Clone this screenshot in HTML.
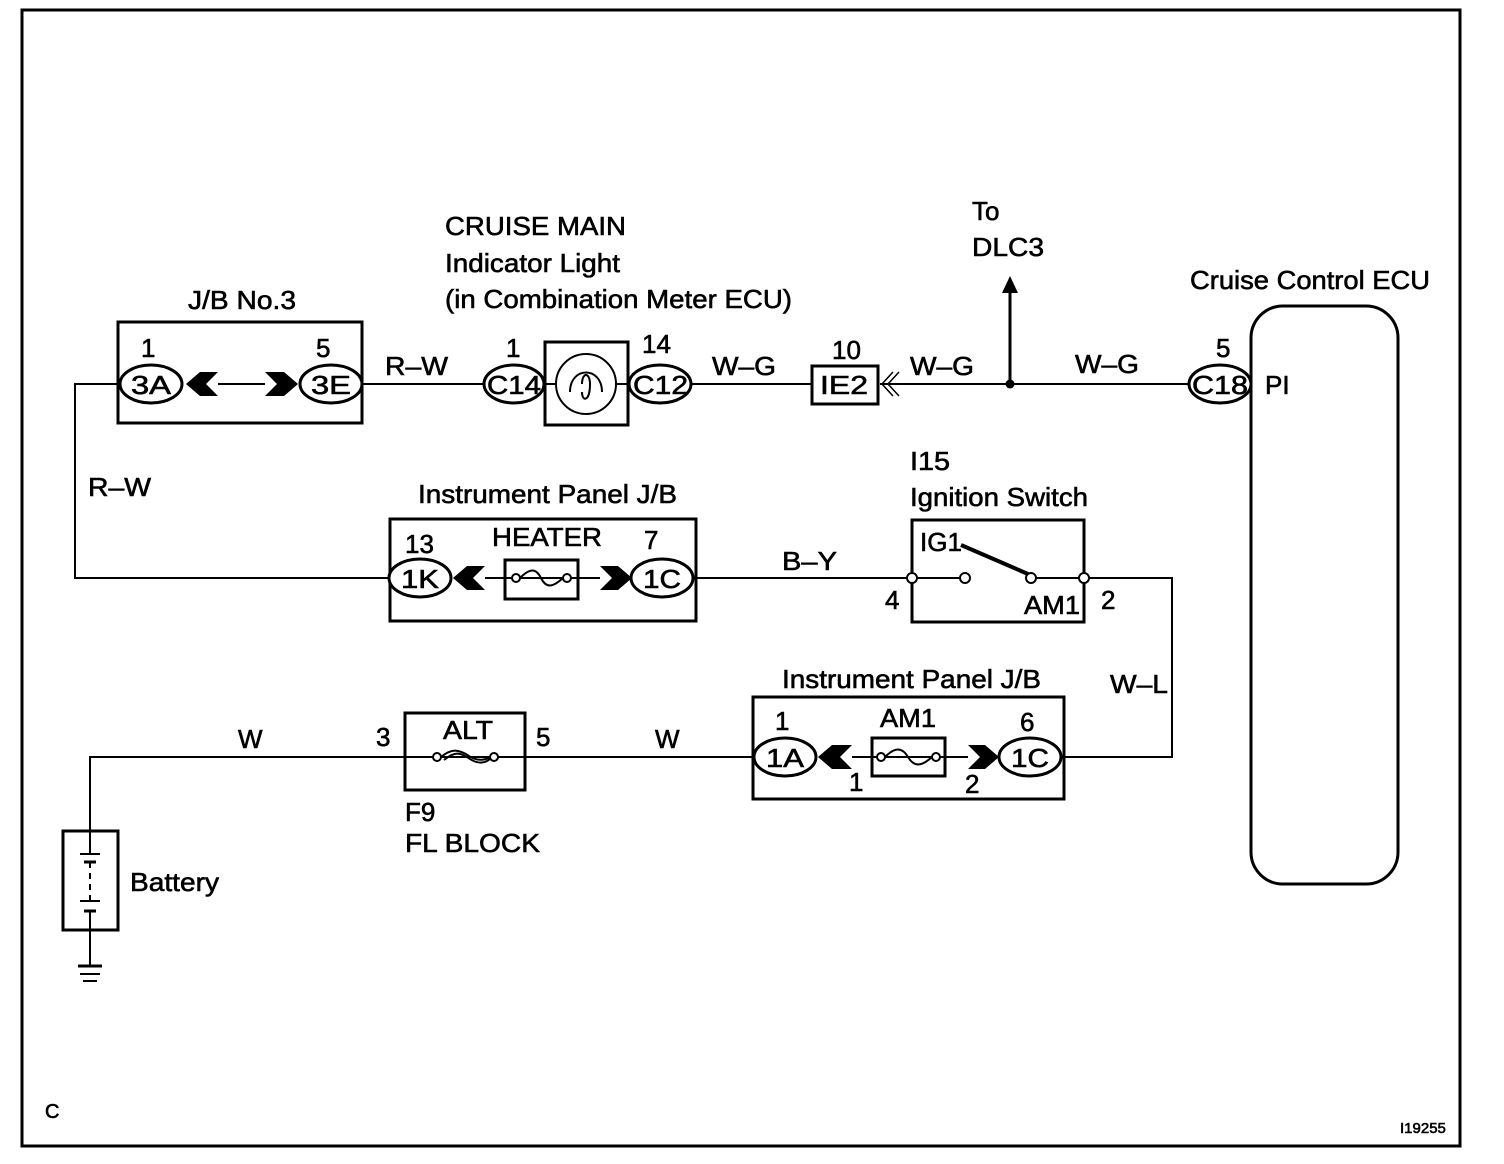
<!DOCTYPE html>
<html><head><style>html,body{margin:0;padding:0;background:#fff}svg{display:block}text{font-family:"Liberation Sans",Arial,sans-serif;fill:#000;stroke:#000;stroke-width:0.6}</style></head><body>
<svg width="1504" height="1164" viewBox="0 0 1504 1164" xmlns="http://www.w3.org/2000/svg">
<rect x="22" y="10" width="1438" height="1136" fill="none" stroke="#000" stroke-width="3"/>
<g fill="none" stroke="#000" stroke-width="2">
<polyline points="118,384 75,384 75,578 390,578"/>
<line x1="218" y1="384" x2="265" y2="384"/>
<line x1="362" y1="384" x2="484" y2="384"/>
<line x1="692" y1="384" x2="812" y2="384"/>
<line x1="880" y1="384" x2="1189" y2="384"/>
<line x1="1010" y1="384" x2="1010" y2="292" stroke-width="3"/>
<line x1="545" y1="384" x2="628" y2="384"/>
<line x1="485" y1="578" x2="600" y2="578"/>
<line x1="694" y1="578" x2="908" y2="578"/>
<line x1="916" y1="578" x2="960" y2="578"/>
<polyline points="1088,578 1172,578 1172,757 1064,757"/>
<line x1="1035" y1="578" x2="1080" y2="578"/>
<line x1="852" y1="757" x2="968" y2="757"/>
<polyline points="753,757 525,757"/>
<polyline points="405,757 90,757 90,831"/>
<line x1="405" y1="757" x2="525" y2="757"/>
<line x1="90" y1="930" x2="90" y2="965"/>
</g>
<g fill="none" stroke="#000" stroke-width="3">
<rect x="118" y="322" width="244" height="101"/>
<rect x="545" y="342" width="83" height="83"/>
<rect x="812" y="366" width="66" height="38"/>
<rect x="1251" y="306" width="147" height="578" rx="32"/>
<rect x="390" y="519" width="306" height="102"/>
<rect x="505" y="560" width="73" height="39"/>
<rect x="912" y="520" width="172" height="102"/>
<rect x="753" y="697" width="311" height="102"/>
<rect x="872" y="738" width="73" height="38"/>
<rect x="405" y="713" width="120" height="77"/>
<rect x="63" y="831" width="55" height="99"/>
</g>
<g fill="#fff" stroke="#000" stroke-width="3">
<ellipse cx="151" cy="384" rx="31" ry="19"/>
<ellipse cx="331" cy="384" rx="31" ry="19"/>
<ellipse cx="514" cy="384" rx="30" ry="19"/>
<ellipse cx="660" cy="384" rx="31" ry="19"/>
<ellipse cx="1220" cy="384" rx="31" ry="19"/>
<ellipse cx="420" cy="578" rx="31" ry="19"/>
<ellipse cx="662" cy="578" rx="31" ry="19"/>
<ellipse cx="785" cy="757" rx="31" ry="19"/>
<ellipse cx="1030" cy="757" rx="31" ry="19"/>
<circle cx="586" cy="384" r="30" stroke-width="2"/>
</g>
<path d="M570,392 C570,366 602,366 602,392 M582,392 C582,402 590,402 590,384 C590,372 582,372 582,384" fill="none" stroke="#000" stroke-width="2"/>
<g fill="#000">
<polygon points="186,384 200,372 218,372 206,384 218,396 200,396"/>
<polygon points="298,384 284,372 265,372 277,384 265,396 284,396"/>
<polygon points="453,578 467,566 485,566 473,578 485,590 467,590"/>
<polygon points="632,578 618,566 600,566 612,578 600,590 618,590"/>
<polygon points="818,757 832,745 852,745 840,757 852,769 832,769"/>
<polygon points="999,757 985,745 968,745 980,757 968,769 985,769"/>
<polygon points="1010,276 1002,293 1018,293"/>
<circle cx="1010" cy="384" r="4.5"/>
</g>
<path d="M893,372 L882,384 L893,396 M899,372 L888,384 L899,396" fill="none" stroke="#000" stroke-width="1.5"/>
<g fill="none" stroke="#000" stroke-width="2">
<circle cx="516" cy="578" r="4" fill="#fff"/><circle cx="567" cy="578" r="4" fill="#fff"/>
<path d="M520,578 C530,568 536,568 541,578 C546,588 552,588 563,578"/>
<circle cx="881" cy="757" r="4" fill="#fff"/><circle cx="936" cy="757" r="4" fill="#fff"/>
<path d="M885,757 C895,747 902,747 908,757 C914,767 921,767 932,757"/>
<circle cx="437" cy="757" r="4" fill="#fff"/><circle cx="494" cy="757" r="4" fill="#fff"/>
<path d="M441,757 C452,748 458,750 466,754 C474,760 482,762 490,757 M444,760 C455,751 460,753 467,757 C475,763 483,765 490,759"/>
<circle cx="912" cy="578" r="5" fill="#fff"/><circle cx="965" cy="578" r="5" fill="#fff"/>
<circle cx="1031" cy="578" r="5" fill="#fff"/><circle cx="1084" cy="578" r="5" fill="#fff"/>
<line x1="1028" y1="574" x2="961" y2="545" stroke-width="4"/>
<line x1="90" y1="831" x2="90" y2="854"/>
<line x1="80" y1="854" x2="100" y2="854"/>
<line x1="84" y1="862" x2="96" y2="862" stroke-width="3"/>
<line x1="90" y1="862" x2="90" y2="900" stroke-dasharray="6,5"/>
<line x1="80" y1="901" x2="100" y2="901"/>
<line x1="84" y1="911" x2="96" y2="911" stroke-width="3"/>
<line x1="90" y1="911" x2="90" y2="930"/>
<line x1="78" y1="966" x2="102" y2="966" stroke-width="3"/>
<line x1="80" y1="974" x2="100" y2="974"/>
<line x1="83" y1="981" x2="97" y2="981"/>
</g>
<g font-size="26">
<text x="188" y="309" textLength="108" lengthAdjust="spacingAndGlyphs">J/B No.3</text>
<text x="141" y="357">1</text><text x="316" y="357">5</text>
<text x="131" y="394" textLength="40" lengthAdjust="spacingAndGlyphs">3A</text>
<text x="311" y="394" textLength="40" lengthAdjust="spacingAndGlyphs">3E</text>
<text x="385" y="375" textLength="63" lengthAdjust="spacingAndGlyphs">R–W</text>
<text x="445" y="235" textLength="181" lengthAdjust="spacingAndGlyphs">CRUISE MAIN</text>
<text x="445" y="272" textLength="175" lengthAdjust="spacingAndGlyphs">Indicator Light</text>
<text x="445" y="308" textLength="347" lengthAdjust="spacingAndGlyphs">(in Combination Meter ECU)</text>
<text x="506" y="357">1</text><text x="642" y="353">14</text>
<text x="487" y="394" textLength="54" lengthAdjust="spacingAndGlyphs">C14</text>
<text x="633" y="394" textLength="55" lengthAdjust="spacingAndGlyphs">C12</text>
<text x="712" y="375" textLength="64" lengthAdjust="spacingAndGlyphs">W–G</text>
<text x="832" y="359">10</text>
<text x="820" y="394" textLength="48" lengthAdjust="spacingAndGlyphs">IE2</text>
<text x="910" y="375" textLength="64" lengthAdjust="spacingAndGlyphs">W–G</text>
<text x="1075" y="373" textLength="64" lengthAdjust="spacingAndGlyphs">W–G</text>
<text x="972" y="220">To</text><text x="972" y="256" textLength="72" lengthAdjust="spacingAndGlyphs">DLC3</text>
<text x="1190" y="289" textLength="240" lengthAdjust="spacingAndGlyphs">Cruise Control ECU</text>
<text x="1216" y="357">5</text>
<text x="1192" y="394" textLength="56" lengthAdjust="spacingAndGlyphs">C18</text>
<text x="1265" y="394">PI</text>
<text x="88" y="496" textLength="63" lengthAdjust="spacingAndGlyphs">R–W</text>
<text x="418" y="503" textLength="259" lengthAdjust="spacingAndGlyphs">Instrument Panel J/B</text>
<text x="405" y="553">13</text><text x="644" y="549">7</text>
<text x="492" y="546" textLength="110" lengthAdjust="spacingAndGlyphs">HEATER</text>
<text x="401" y="588" textLength="38" lengthAdjust="spacingAndGlyphs">1K</text>
<text x="643" y="588" textLength="38" lengthAdjust="spacingAndGlyphs">1C</text>
<text x="782" y="570" textLength="55" lengthAdjust="spacingAndGlyphs">B–Y</text>
<text x="910" y="470" textLength="40" lengthAdjust="spacingAndGlyphs">I15</text>
<text x="910" y="506" textLength="178" lengthAdjust="spacingAndGlyphs">Ignition Switch</text>
<text x="920" y="551" textLength="42" lengthAdjust="spacingAndGlyphs">IG1</text>
<text x="1024" y="614" textLength="56" lengthAdjust="spacingAndGlyphs">AM1</text>
<text x="885" y="609">4</text><text x="1101" y="609">2</text>
<text x="1110" y="693" textLength="58" lengthAdjust="spacingAndGlyphs">W–L</text>
<text x="782" y="688" textLength="259" lengthAdjust="spacingAndGlyphs">Instrument Panel J/B</text>
<text x="775" y="730">1</text><text x="1020" y="731">6</text>
<text x="880" y="727" textLength="56" lengthAdjust="spacingAndGlyphs">AM1</text>
<text x="766" y="767" textLength="38" lengthAdjust="spacingAndGlyphs">1A</text>
<text x="1011" y="767" textLength="38" lengthAdjust="spacingAndGlyphs">1C</text>
<text x="849" y="791">1</text><text x="965" y="793">2</text>
<text x="655" y="748">W</text>
<text x="238" y="748">W</text>
<text x="376" y="746">3</text><text x="536" y="746">5</text>
<text x="443" y="739" textLength="50" lengthAdjust="spacingAndGlyphs">ALT</text>
<text x="405" y="821">F9</text>
<text x="405" y="852" textLength="135" lengthAdjust="spacingAndGlyphs">FL BLOCK</text>
<text x="130" y="891" textLength="89" lengthAdjust="spacingAndGlyphs">Battery</text>
<text x="45" y="1118" font-size="20">C</text>
<text x="1400" y="1133" font-size="15">I19255</text>
</g>
</svg>
</body></html>
